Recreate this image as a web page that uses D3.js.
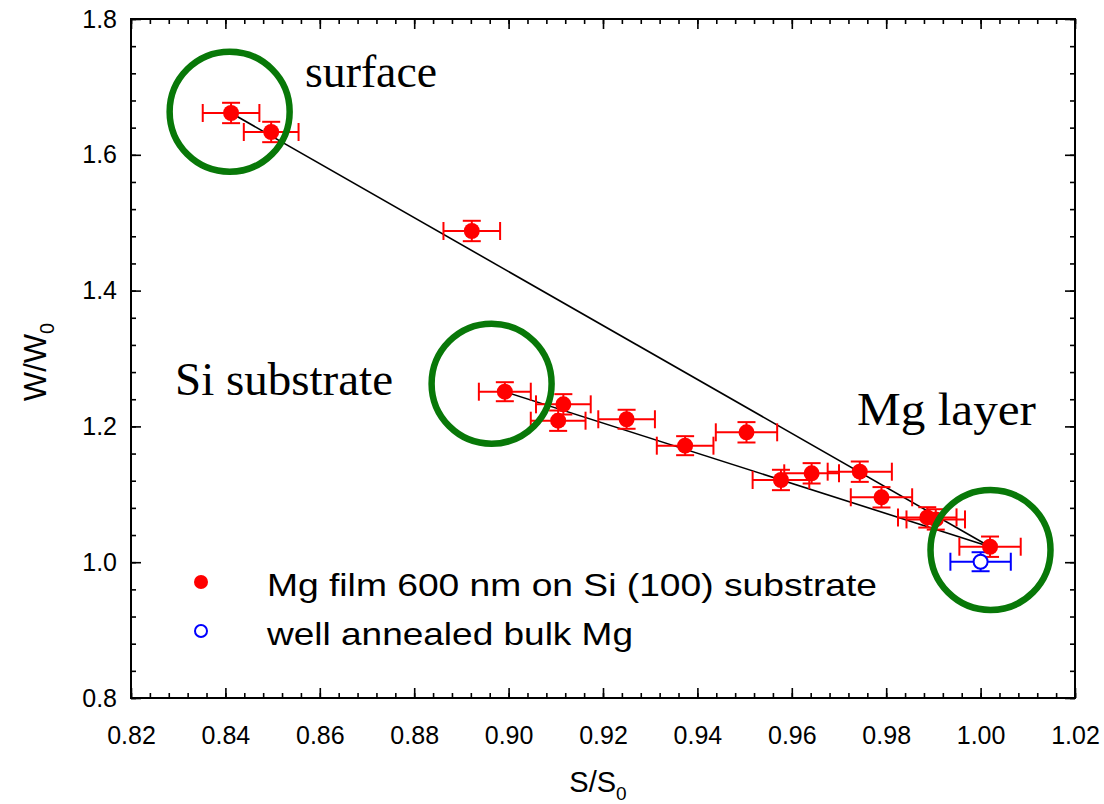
<!DOCTYPE html>
<html>
<head>
<meta charset="utf-8">
<script src="https://cdn.jsdelivr.net/npm/d3@7"></script>
<style>
  html, body { margin: 0; padding: 0; background: #fff; }
  svg { display: block; }
</style>
</head>
<body>
<svg id="chart" width="1104" height="804"></svg>
<script>
// Mg film on Si(100): normalized W vs S parameters
const filmS    = [0.8412, 0.8497, 0.8922, 0.8992, 0.9116, 0.9105, 0.9250, 0.9374, 0.9504, 0.9577, 0.9642, 0.9744, 0.9790, 0.9887, 0.9905, 1.0020];
const filmW    = [1.6616, 1.6336, 1.4878, 1.2511, 1.2325, 1.2084, 1.2105, 1.1716, 1.1913, 1.1211, 1.1309, 1.1333, 1.0956, 1.0660, 1.0630, 1.0228];
const filmSErr = [0.0060, 0.0058, 0.0060, 0.0055, 0.0058, 0.0058, 0.0060, 0.0060, 0.0065, 0.0060, 0.0058, 0.0068, 0.0065, 0.0062, 0.0062, 0.0065];
const filmWErr = [0.0150, 0.0150, 0.0150, 0.0140, 0.0150, 0.0150, 0.0140, 0.0140, 0.0150, 0.0150, 0.0150, 0.0150, 0.0150, 0.0150, 0.0150, 0.0150];

const bulkS    = [1.0000];
const bulkW    = [1.0007];
const bulkSErr = [0.0064];
const bulkWErr = [0.0140];

// straight lines: surface -> Mg layer, Si substrate -> Mg layer
const lineA = [[0.8412, 1.6616], [1.0020, 1.0228]];
const lineB = [[0.8992, 1.2511], [1.0020, 1.0228]];

// highlighted regions
const regionNames = ["surface", "Si substrate", "Mg layer"];
const regionS     = [0.8409, 0.8964, 1.0021];
const regionW     = [1.6635, 1.2629, 1.0180];

const xTicks = [0.82, 0.84, 0.86, 0.88, 0.90, 0.92, 0.94, 0.96, 0.98, 1.00, 1.02];
const yTicks = [0.8, 1.0, 1.2, 1.4, 1.6, 1.8];
const legendLabels = ["Mg film 600 nm on Si (100) substrate", "well annealed bulk Mg"];

const svg = d3.select("#chart");
const L = 131, R = 1075, T = 19, B = 698;

const x = d3.scaleLinear().domain([0.82, 1.02]).range([L, R]);
const y = d3.scaleLinear().domain([0.8, 1.8]).range([B, T]);

const xMinor = d3.range(0, 51).map(i => 0.82 + i * 0.004);
const yMinor = d3.range(0, 26).map(i => 0.8 + i * 0.04);

const axisFont = "Arial, 'Liberation Sans', sans-serif";

// frame ticks (inward on all four sides)
function frameAxis(axisGen, transform) {
  const g = svg.append("g").attr("transform", transform).call(axisGen);
  g.select(".domain").remove();
  g.selectAll("line").attr("stroke", "#000").attr("stroke-width", 1.6);
  g.selectAll("text").remove();
  return g;
}
frameAxis(d3.axisBottom(x).tickValues(xMinor).tickSize(-5), `translate(0,${B})`);
frameAxis(d3.axisBottom(x).tickValues(xTicks).tickSize(-10), `translate(0,${B})`);
frameAxis(d3.axisTop(x).tickValues(xMinor).tickSize(-5), `translate(0,${T})`);
frameAxis(d3.axisTop(x).tickValues(xTicks).tickSize(-10), `translate(0,${T})`);
frameAxis(d3.axisLeft(y).tickValues(yMinor).tickSize(-5), `translate(${L},0)`);
frameAxis(d3.axisLeft(y).tickValues(yTicks).tickSize(-10), `translate(${L},0)`);
frameAxis(d3.axisRight(y).tickValues(yMinor).tickSize(-5), `translate(${R},0)`);
frameAxis(d3.axisRight(y).tickValues(yTicks).tickSize(-10), `translate(${R},0)`);

svg.append("rect").attr("x", L).attr("y", T).attr("width", R - L).attr("height", B - T)
  .attr("fill", "none").attr("stroke", "#000").attr("stroke-width", 2);

// tick labels
const xLab = svg.append("g").attr("transform", `translate(0,${B})`)
  .call(d3.axisBottom(x).tickValues(xTicks).tickSize(0).tickPadding(28).tickFormat(d3.format(".2f")));
xLab.select(".domain").remove();
xLab.selectAll("text").attr("font-family", axisFont).attr("font-size", 25).attr("fill", "#000");

const yLab = svg.append("g").attr("transform", `translate(${L},0)`)
  .call(d3.axisLeft(y).tickValues(yTicks).tickSize(0).tickPadding(14).tickFormat(d3.format(".1f")));
yLab.select(".domain").remove();
yLab.selectAll("text").attr("font-family", axisFont).attr("font-size", 25).attr("fill", "#000");

// axis titles
const xt = svg.append("text").attr("x", 598).attr("y", 792).attr("text-anchor", "middle")
  .attr("font-family", axisFont).attr("font-size", 29).attr("fill", "#000");
xt.append("tspan").text("S/S");
xt.append("tspan").attr("font-size", 19).attr("dy", 8).text("0");

const yt = svg.append("text").attr("transform", "translate(46,362) rotate(-90)").attr("text-anchor", "middle")
  .attr("font-family", axisFont).attr("font-size", 31).attr("fill", "#000");
yt.append("tspan").text("W/W");
yt.append("tspan").attr("font-size", 20).attr("dy", 8).text("0");

// connecting lines
const line = d3.line().x(d => x(d[0])).y(d => y(d[1]));
[lineA, lineB].forEach(seg => {
  svg.append("path").attr("d", line(seg)).attr("fill", "none").attr("stroke", "#000").attr("stroke-width", 1.6);
});

// error bars + markers
function errorBars(S, W, SE, WE, color) {
  const g = svg.append("g").attr("stroke", color).attr("stroke-width", 2).attr("fill", "none");
  S.forEach((s, i) => {
    const cx = x(s), cy = y(W[i]);
    const x0 = x(s - SE[i]), x1 = x(s + SE[i]);
    const y0 = y(W[i] - WE[i]), y1 = y(W[i] + WE[i]);
    g.append("line").attr("x1", x0).attr("x2", x1).attr("y1", cy).attr("y2", cy);
    g.append("line").attr("x1", x0).attr("x2", x0).attr("y1", cy - 9).attr("y2", cy + 9);
    g.append("line").attr("x1", x1).attr("x2", x1).attr("y1", cy - 9).attr("y2", cy + 9);
    g.append("line").attr("x1", cx).attr("x2", cx).attr("y1", y0).attr("y2", y1);
    g.append("line").attr("x1", cx - 9).attr("x2", cx + 9).attr("y1", y0).attr("y2", y0);
    g.append("line").attr("x1", cx - 9).attr("x2", cx + 9).attr("y1", y1).attr("y2", y1);
  });
}
errorBars(filmS, filmW, filmSErr, filmWErr, "#ff0000");
errorBars(bulkS, bulkW, bulkSErr, bulkWErr, "#0000ff");

svg.append("g").selectAll("circle").data(filmS).join("circle")
  .attr("cx", d => x(d)).attr("cy", (d, i) => y(filmW[i])).attr("r", 8).attr("fill", "#ff0000");
svg.append("g").selectAll("circle").data(bulkS).join("circle")
  .attr("cx", d => x(d)).attr("cy", (d, i) => y(bulkW[i])).attr("r", 7)
  .attr("fill", "#fff").attr("stroke", "#0000ff").attr("stroke-width", 2);

// highlight rings around the three regions
svg.append("g").selectAll("circle").data(regionS).join("circle")
  .attr("cx", d => x(d)).attr("cy", (d, i) => y(regionW[i])).attr("r", 60)
  .attr("fill", "none").attr("stroke", "#087808").attr("stroke-width", 6.5);

// region labels
const serif = "'Times New Roman', 'Liberation Serif', serif";
const regionLabelPos = [[305, 87], [175, 395], [857, 425]];
const regionLabelLen = [132, 218, 179];
regionNames.forEach((n, i) => {
  svg.append("text").attr("x", regionLabelPos[i][0]).attr("y", regionLabelPos[i][1])
    .attr("font-family", serif).attr("font-size", 46).attr("fill", "#000")
    .attr("textLength", regionLabelLen[i]).attr("lengthAdjust", "spacingAndGlyphs").text(n);
});

// legend
const lg = svg.append("g");
lg.append("circle").attr("cx", 201).attr("cy", 582).attr("r", 7).attr("fill", "#ff0000");
lg.append("circle").attr("cx", 201).attr("cy", 631).attr("r", 6).attr("fill", "#fff")
  .attr("stroke", "#0000ff").attr("stroke-width", 2);
const legendLen = [610, 366];
legendLabels.forEach((t, i) => {
  lg.append("text").attr("x", 267).attr("y", 596 + i * 49)
    .attr("font-family", axisFont).attr("font-size", 32).attr("fill", "#000")
    .attr("textLength", legendLen[i]).attr("lengthAdjust", "spacingAndGlyphs").text(t);
});
</script>
</body>
</html>
